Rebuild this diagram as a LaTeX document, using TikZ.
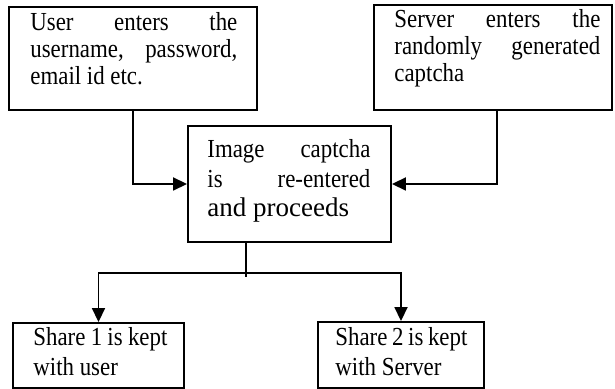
\documentclass[tikz,border=0pt]{standalone}
\usepackage{fontspec}
\setmainfont{Liberation Serif}[FakeStretch=0.88]
\newfontfamily\widefont{Liberation Serif}
\usetikzlibrary{arrows.meta}
\begin{document}
\begin{tikzpicture}[x=0.5pt,y=-0.5pt,
  box/.style={draw=black,line width=0.95pt,inner sep=0pt,minimum width=#1},
  txt/.style={inner sep=0pt,anchor=base west,align=justify,text width=#1,
    font=\fontsize{13}{13.5}\selectfont},
  link/.style={draw=black,line width=0.9pt},
  arr/.style={link,-{Triangle[length=7pt,width=6.5pt]}}]
\useasboundingbox (0,0) rectangle (615,389);
% boxes
\node[box=124pt,minimum height=51.5pt] (b1) at (133,58.5) {};
\node[box=119pt,minimum height=52.5pt] (b2) at (493,57.5) {};
\node[box=101.5pt,minimum height=58pt] (c) at (289.5,184) {};
\node[box=85.5pt,minimum height=32.5pt] (d1) at (98.5,355.5) {};
\node[box=83pt,minimum height=33pt] (d2) at (401,355) {};
% texts
\node[txt=103.5pt] (t1) at (30,31) {User enters the\linebreak username, password,\linebreak email id etc.};
\node[txt=103pt] (t2) at (394,28) {Server enters the\linebreak randomly generated\linebreak captcha};
\node[txt=81.5pt,font=\fontsize{13}{14.75}\selectfont] (t3) at (207,158) {Image captcha\linebreak is re-entered\linebreak {\widefont\fontsize{13.5}{14.75}\selectfont and proceeds}};
\node[txt=67pt,font=\fontsize{13}{15}\selectfont] (t4) at (33,345) {Share 1 is kept\linebreak with user};
\node[txt=66pt,font=\fontsize{13}{15}\selectfont] (t5) at (335,345) {Share 2 is kept\linebreak with Server};
% connectors
\draw[arr] (b1.south) |- (c.west);
\draw[arr] ([xshift=2pt]b2.south) |- (c.east);
\coordinate (j) at (246,273);
\coordinate (jend) at (246,277);
\draw[link] (c.south -| j) -- (jend);
\draw[arr] (j) -| (d1.north);
\draw[arr] (j) -| (d2.north);
\end{tikzpicture}
\end{document}
